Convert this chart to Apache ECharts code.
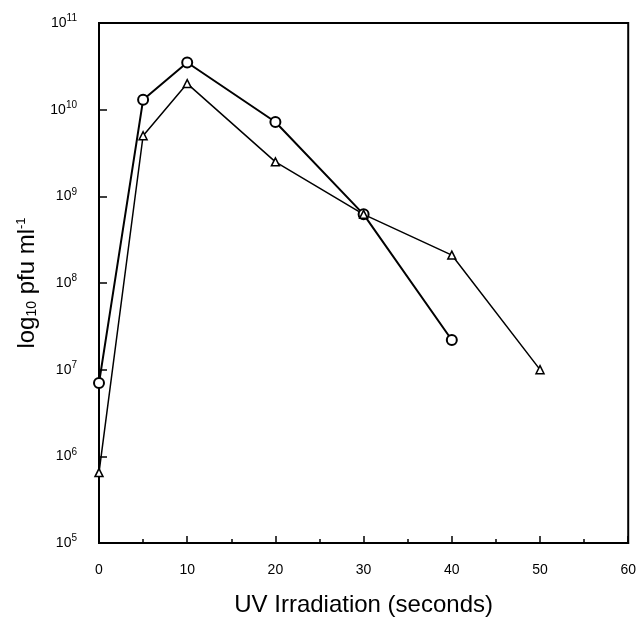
<!DOCTYPE html>
<html>
<head>
<meta charset="utf-8">
<script src="https://cdn.jsdelivr.net/npm/echarts@6/dist/echarts.min.js"></script>
<style>
  html, body { margin: 0; padding: 0; background: #fff; }
  #main { width: 639px; height: 622px; }
</style>
</head>
<body>
<div id="main"></div>
<script>
// UV dose (s) vs titre
var circleX = [0, 5, 10, 20, 30, 40];
var circleY = [7e6, 1.3e10, 3.5e10, 7.2e9, 6.2e8, 2.2e7];
var triX = [0, 5, 10, 20, 30, 40, 50];
var triY = [6.5e5, 5e9, 2.0e10, 2.5e9, 6.2e8, 2.1e8, 1.0e7];

var font = 'Liberation Sans';

function pairs(xs, ys) {
  return xs.map(function (x, i) { return [x, ys[i]]; });
}

var chart = echarts.init(document.getElementById('main'));

chart.setOption({
  animation: false,
  backgroundColor: '#fff',
  textStyle: { fontFamily: font, color: '#000' },
  grid: {
    left: 99, right: 10, top: 23, bottom: 74,
    show: true, borderColor: '#000', borderWidth: 2
  },
  xAxis: {
    type: 'value',
    min: 0, max: 60, interval: 10,
    name: 'UV Irradiation (seconds)',
    nameLocation: 'middle',
    nameGap: 50,
    nameTextStyle: { fontSize: 24, fontFamily: font, color: '#000' },
    axisLine: { lineStyle: { color: '#000', width: 2 } },
    axisTick: { inside: true, length: 7, lineStyle: { color: '#000', width: 1.5 } },
    minorTick: { show: true, splitNumber: 2, length: 4, lineStyle: { color: '#000', width: 1.5 } },
    splitLine: { show: false },
    axisLabel: { fontSize: 14, margin: 20, color: '#000', fontFamily: font }
  },
  yAxis: {
    type: 'log',
    logBase: 10,
    min: 1e5, max: 1e11,
    name: '{n|log}{s|10}{n| pfu ml}{p|-1}',
    nameLocation: 'middle',
    nameGap: 58,
    nameRotate: 90,
    nameTextStyle: {
      rich: {
        n: { fontSize: 24, fontFamily: font, color: '#000' },
        s: { fontSize: 14, fontFamily: font, color: '#000', padding: [10, 0, 0, 0] },
        p: { fontSize: 13, fontFamily: font, color: '#000', padding: [0, 0, 12, 0] }
      }
    },
    axisLine: { lineStyle: { color: '#000', width: 2 } },
    axisTick: { inside: true, length: 8, lineStyle: { color: '#000', width: 1.5 } },
    splitLine: { show: false },
    axisLabel: {
      margin: 22,
      formatter: function (v) {
        return '{b|10}{e|' + Math.round(Math.log10(v)) + '}';
      },
      rich: {
        b: { fontSize: 14, fontFamily: font, color: '#000' },
        e: { fontSize: 10, fontFamily: font, color: '#000', padding: [0, 0, 9, 0] }
      }
    }
  },
  series: [
    {
      name: 'circle',
      type: 'line',
      data: pairs(circleX, circleY),
      symbol: 'emptyCircle',
      symbolSize: 10,
      lineStyle: { color: '#000', width: 2 },
      itemStyle: { color: '#000', borderColor: '#000', borderWidth: 1.5 }
    },
    {
      name: 'triangle',
      type: 'line',
      data: pairs(triX, triY),
      symbol: 'triangle',
      symbolSize: 8,
      lineStyle: { color: '#000', width: 1.5 },
      itemStyle: { color: '#fff', borderColor: '#000', borderWidth: 1.5 }
    }
  ]
});
</script>
</body>
</html>
